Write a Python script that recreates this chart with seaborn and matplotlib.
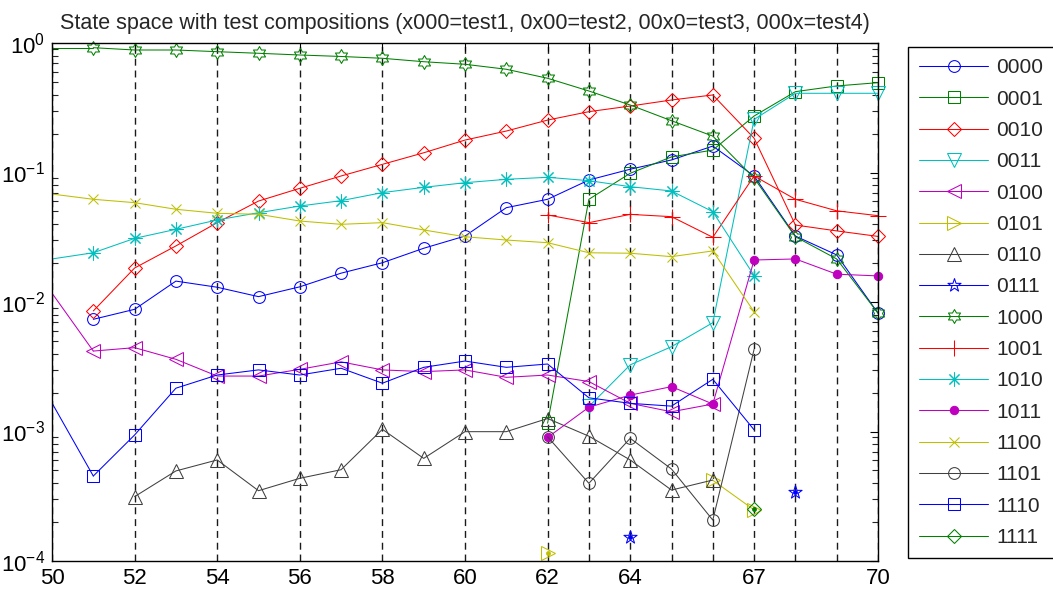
import numpy as np
import matplotlib
matplotlib.use("Agg")
import matplotlib.pyplot as plt
import seaborn as sns
from matplotlib.path import Path
from matplotlib.lines import Line2D
from matplotlib.ticker import FixedLocator, FixedFormatter, LogLocator, NullFormatter

nan = np.nan

# ---------------- data ----------------
x_vals = list(range(51, 71))          # sample positions 51..70
x_edge = 50                            # left axis edge (line enters from outside)

labels = ['0000', '0001', '0010', '0011', '0100', '0101', '0110', '0111',
          '1000', '1001', '1010', '1011', '1100', '1101', '1110', '1111']

s0000 = [0.00735, 0.00878, 0.0145, 0.0130, 0.0110, 0.0131, 0.0167, 0.0201, 0.0260, 0.0323,
         0.0535, 0.0621, 0.0875, 0.106, 0.125, 0.160, 0.094, 0.0323, 0.0231, 0.0082]
s0001 = [nan, nan, nan, nan, nan, nan, nan, nan, nan, nan,
         nan, 0.00116, 0.0621, 0.0986, 0.132, 0.149, 0.273, 0.421, 0.466, 0.494]
s0010 = [0.00853, 0.0183, 0.0271, 0.0410, 0.0602, 0.0755, 0.0940, 0.1156, 0.142, 0.178,
         0.209, 0.254, 0.295, 0.326, 0.363, 0.397, 0.184, 0.0393, 0.0354, 0.0321]
s0011 = [nan, nan, nan, nan, nan, nan, nan, nan, nan, nan,
         nan, nan, 0.00156, 0.00327, 0.00452, 0.00692, 0.257, 0.409, 0.409, 0.409]
s0100 = [0.00418, 0.00444, 0.00361, 0.00268, 0.00268, 0.00302, 0.00345, 0.00299, 0.00290, 0.00299,
         0.00262, 0.00273, 0.00243, 0.00165, 0.00142, 0.00163, nan, nan, nan, nan]
s0101 = [nan, nan, nan, nan, nan, nan, nan, nan, nan, nan,
         nan, 0.000115, nan, nan, nan, 0.00042, 0.000248, nan, nan, nan]
s0110 = [nan, 0.000314, 0.000496, 0.000603, 0.000349, 0.000435, 0.000507, 0.00104, 0.00062, 0.000997,
         0.000997, 0.00126, 0.00092, 0.000603, 0.000353, 0.000422, nan, nan, nan, nan]
s0111 = [nan, nan, nan, nan, nan, nan, nan, nan, nan, nan,
         nan, nan, nan, 0.000152, nan, nan, nan, 0.000343, nan, nan]
s1000 = [0.920, 0.883, 0.883, 0.857, 0.833, 0.808, 0.787, 0.762, 0.717, 0.685,
         0.627, 0.534, 0.426, 0.332, 0.251, 0.191, 0.0907, 0.0319, 0.0215, 0.0082]
s1001 = [nan, nan, nan, nan, nan, nan, nan, nan, nan, nan,
         nan, 0.0470, 0.0410, 0.0475, 0.0456, 0.0316, 0.094, 0.0621, 0.0506, 0.0464]
s1010 = [0.0240, 0.0310, 0.0364, 0.0430, 0.0489, 0.0551, 0.0606, 0.0699, 0.0768, 0.0834,
         0.0886, 0.0918, 0.0865, 0.0777, 0.0720, 0.0498, 0.0160, nan, nan, nan]
s1011 = [nan, nan, nan, nan, nan, nan, nan, nan, nan, nan,
         nan, 0.00090, 0.00154, 0.00191, 0.00222, 0.00163, 0.0211, 0.0215, 0.0164, 0.0159]
s1100 = [0.0621, 0.0585, 0.0520, 0.0484, 0.0476, 0.0422, 0.0398, 0.0410, 0.0360, 0.0319,
         0.0301, 0.0287, 0.0240, 0.0238, 0.0224, 0.0248, 0.0084, nan, nan, nan]
s1101 = [nan, nan, nan, nan, nan, nan, nan, nan, nan, nan,
         nan, 0.00091, 0.000398, 0.000886, 0.000513, 0.000207, 0.00431, nan, nan, nan]
s1110 = [0.000453, 0.00094, 0.00216, 0.00273, 0.00299, 0.00273, 0.00308, 0.00236, 0.00313, 0.00350,
         0.00313, 0.00332, 0.00182, 0.00165, 0.00157, 0.00253, 0.00103, nan, nan, nan]
s1111 = [nan, nan, nan, nan, nan, nan, nan, nan, nan, nan,
         nan, nan, nan, nan, nan, nan, 0.000251, nan, nan, nan]

series = [s0000, s0001, s0010, s0011, s0100, s0101, s0110, s0111,
          s1000, s1001, s1010, s1011, s1100, s1101, s1110, s1111]

# value where a line enters at the left axis edge (x = 50)
edge_values = [nan, nan, nan, nan, 0.0117, nan, nan, nan,
               0.92, nan, 0.0215, nan, 0.0682, nan, 0.00166, nan]

x_tick_pos = [50, 52, 54, 56, 58, 60, 62, 63, 64, 65, 66, 67, 68, 69, 70]
x_tick_lab = ['50', '52', '54', '56', '58', '60', '62', '', '64', '', '', '67', '', '', '70']

title = 'State space with test compositions (x000=test1, 0x00=test2, 00x0=test3, 000x=test4)'

# ---------------- styling ----------------
sns.set_style("white")
plt.rcParams['font.family'] = ['Liberation Sans', 'DejaVu Sans']
plt.rcParams['mathtext.fontset'] = 'custom'
plt.rcParams['mathtext.rm'] = 'Liberation Sans'
plt.rcParams['mathtext.it'] = 'Liberation Sans:italic'
plt.rcParams['mathtext.bf'] = 'Liberation Sans:bold'

B = (0, 0, 1)
G = (0, 0.5, 0)
R = (1, 0, 0)
C = (0, 0.75, 0.75)
M = (0.75, 0, 0.75)
Y = (0.75, 0.75, 0)
K = (0.25, 0.25, 0.25)
colors = [B, G, R, C, M, Y, K, B, G, R, C, M, Y, K, B, G]

pentagram = Path.unit_regular_star(5, 0.382)
hexagram = Path.unit_regular_star(6, 0.577)
asterisk = (8, 2, 0)
markers = ['o', 's', 'D', 'v', '<', '>', '^', pentagram,
           hexagram, '+', asterisk, 'o', 'x', 'o', 's', 'D']
msizes = [8.5, 9, 7.3, 9.5, 9.5, 9.5, 9.5, 10,
          10, 11, 10, 6, 7.5, 8.5, 9, 7.3]
filled = [False] * 16
filled[11] = True
isolated_dot = [False, False, False, False, False, True, False, True,
                False, False, False, False, False, False, False, True]

LW = 0.75
MEW = 0.75

fig = plt.figure(figsize=(10.53, 5.94), dpi=100)
ax = fig.add_axes([52 / 1053, 33 / 594, 826 / 1053, 518 / 594])
ax.set_yscale('log')

for i, ys in enumerate(series):
    c = colors[i]
    xs = np.array(x_vals, dtype=float)
    ya = np.array(ys, dtype=float)
    # entering segment from the left edge (no marker at the edge)
    if not np.isnan(edge_values[i]):
        sns.lineplot(x=[x_edge, xs[0]], y=[edge_values[i], ya[0]], ax=ax, color=c,
                     linewidth=LW, legend=False, estimator=None, sort=False)
    # contiguous segments
    valid = ~np.isnan(ya)
    idx = np.where(valid)[0]
    if len(idx) == 0:
        continue
    breaks = np.where(np.diff(idx) > 1)[0]
    groups = np.split(idx, breaks + 1)
    for g in groups:
        sns.lineplot(x=xs[g], y=ya[g], ax=ax, color=c, linewidth=LW,
                     marker=markers[i], markersize=msizes[i],
                     markerfacecolor=(c if filled[i] else 'none'),
                     markeredgecolor=c, markeredgewidth=MEW,
                     legend=False, estimator=None, sort=False, clip_on=False)
        if isolated_dot[i] and len(g) == 1:
            sns.lineplot(x=xs[g], y=ya[g], ax=ax, color=c, linewidth=0,
                         marker='o', markersize=3.5, markerfacecolor=c,
                         markeredgecolor=c, markeredgewidth=0,
                         legend=False, estimator=None, sort=False, clip_on=False)

ax.set_xlim(50, 70)
ax.set_ylim(1e-4, 1)
ax.xaxis.set_major_locator(FixedLocator(x_tick_pos))
ax.xaxis.set_major_formatter(FixedFormatter(x_tick_lab))
ax.yaxis.set_major_locator(LogLocator(base=10, numticks=10))
ax.yaxis.set_minor_locator(LogLocator(base=10, subs=np.arange(2, 10), numticks=50))
ax.yaxis.set_minor_formatter(NullFormatter())
ax.set_xlabel('')
ax.set_ylabel('')

ax.grid(axis='x', which='major', linestyle=(0, (5, 3.5)), color='0.1', linewidth=1.0)
ax.grid(axis='y', which='both', visible=False)

ax.tick_params(axis='both', which='major', direction='in', length=6, width=0.8,
               top=True, right=True, labelsize=16, pad=5, colors='k')
ax.tick_params(axis='y', which='minor', direction='in', length=4.5, width=0.8,
               left=True, right=True)
for sp in ax.spines.values():
    sp.set_visible(True)
    sp.set_color('k')
    sp.set_linewidth(1.0)

ax.set_title(title, fontsize=15.5, pad=10)

handles = []
for i in range(16):
    c = colors[i]
    handles.append(Line2D([], [], color=c, linewidth=LW, marker=markers[i],
                          markersize=msizes[i],
                          markerfacecolor=(c if filled[i] else 'none'),
                          markeredgecolor=c, markeredgewidth=MEW))
leg = fig.legend(handles, labels, loc='upper left', bbox_to_anchor=(908 / 1053, 1 - 47 / 594),
                 fontsize=15, frameon=True, fancybox=False, shadow=False, framealpha=1,
                 edgecolor='k', handlelength=3.3, handletextpad=0.4, borderpad=0.55,
                 labelspacing=0.59, borderaxespad=0.0)
leg.get_frame().set_linewidth(1.0)

fig.savefig('out.png', dpi=100)
